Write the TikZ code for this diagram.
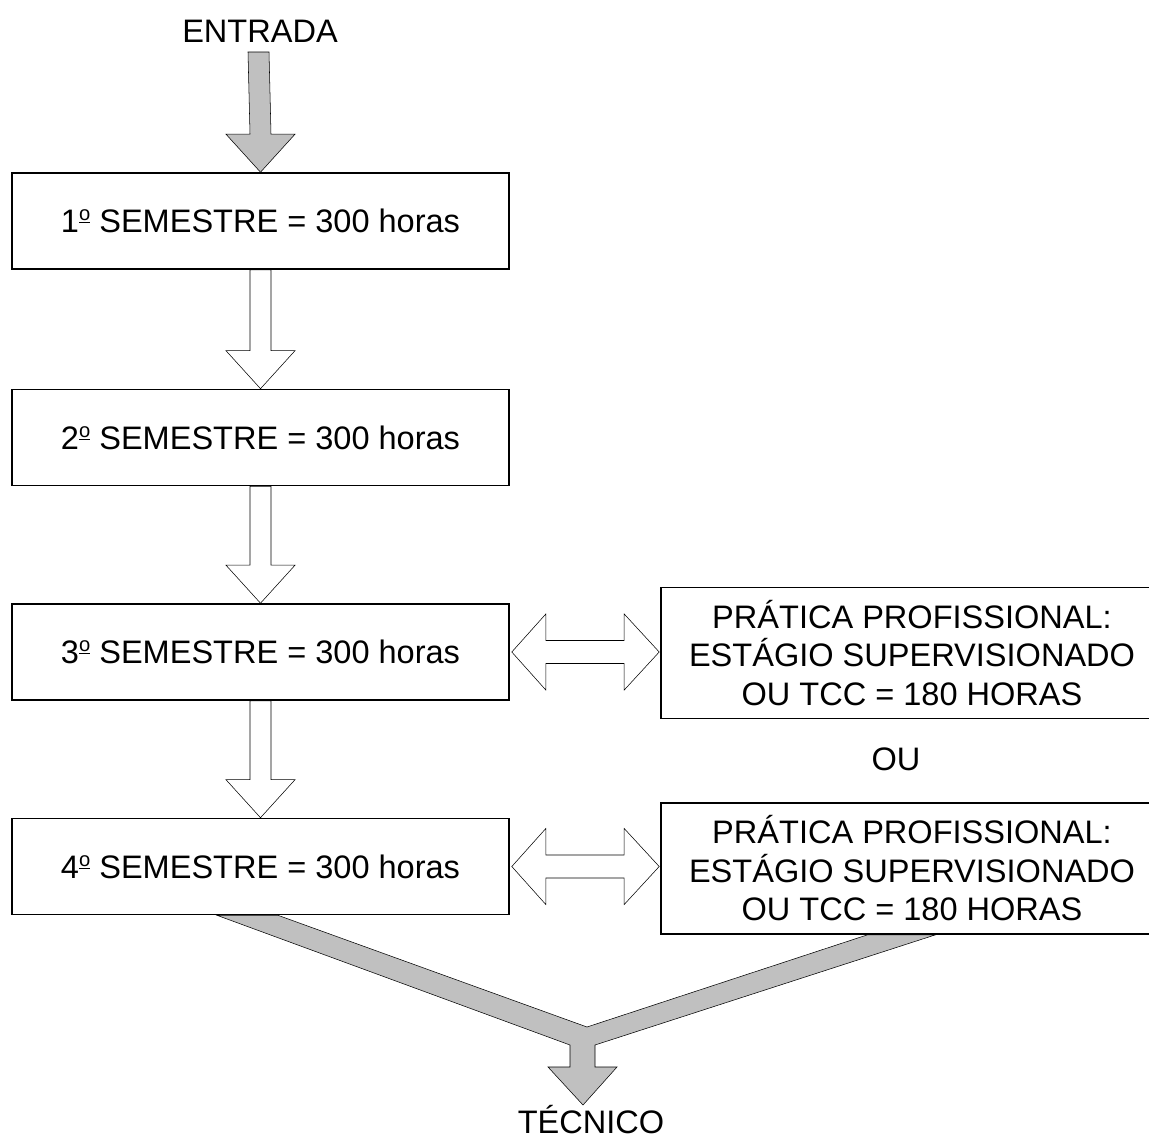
\documentclass[tikz,border=0pt]{standalone}
\usepackage{fontspec}
\setmainfont{Liberation Sans}
\usetikzlibrary{calc,backgrounds}
\definecolor{arrowgray}{HTML}{C0C0C0}
\newcommand\ordsup{\raisebox{0.36em}{\scalebox{0.62}{\underline{o}}}}
\newcommand\blockdown[3]{% style, from, to
  \draw[#1] ($(#2)+(-10.5,0)$) -- ($(#3)+(-10.5,-38)$) -- ($(#3)+(-34.5,-38)$) -- (#3)
    -- ($(#3)+(34.5,-38)$) -- ($(#3)+(10.5,-38)$) -- ($(#2)+(10.5,0)$) -- cycle;}
\newcommand\blockboth[2]{% from (left tip), to (right tip)
  \draw[hollowarrow] (#1) -- ($(#1)+(34,-38)$) -- ($(#1)+(34,-11.5)$) -- ($(#2)+(-35,-11.5)$)
    -- ($(#2)+(-35,-38)$) -- (#2) -- ($(#2)+(-35,38)$) -- ($(#2)+(-35,11.5)$)
    -- ($(#1)+(34,11.5)$) -- ($(#1)+(34,38)$) -- cycle;}
\begin{document}
\begin{tikzpicture}[x=0.75pt,y=-0.75pt,line width=1.2pt,
  every node/.style={font=\fontsize{24.4}{28.9}\selectfont,inner sep=0pt},
  semibox/.style={draw,fill=white,minimum width=372.75pt,minimum height=72pt},
  pbox/.style={draw,fill=white,minimum width=376.5pt,minimum height=98.5pt,align=center},
  lbl/.style={anchor=base},
  hollowarrow/.style={draw=black,fill=white,line join=miter},
  grayarrow/.style={draw=black,fill=arrowgray,line join=miter}]
\clip (0,0) rectangle (1149,1139);

\node[semibox] (s1) at (260.5,221) {1\ordsup{} SEMESTRE = 300 horas};
\node[semibox] (s2) at (260.5,437.5) {2\ordsup{} SEMESTRE = 300 horas};
\node[semibox] (s3) at (260.5,652) {3\ordsup{} SEMESTRE = 300 horas};
\node[semibox] (s4) at (260.5,866.5) {4\ordsup{} SEMESTRE = 300 horas};
\node[pbox] (p1) at (912,653) {PRÁTICA PROFISSIONAL:\\ESTÁGIO SUPERVISIONADO\\OU TCC = 180 HORAS};
\node[pbox] (p2) at (912,868.5) {PRÁTICA PROFISSIONAL:\\ESTÁGIO SUPERVISIONADO\\OU TCC = 180 HORAS};
\node[lbl] (entrada) at (260,42) {ENTRADA};
\node[lbl] (ou) at (896,770) {OU};
\node[lbl] (tecnico) at (591,1133) {TÉCNICO};
\coordinate (start) at (258.5,52);
\coordinate (fork) at (582.5,1045);

\begin{scope}[on background layer]
  \blockdown{grayarrow}{start}{s1.north}
  \blockdown{hollowarrow}{s1.south}{s2.north}
  \blockdown{hollowarrow}{s2.south}{s3.north}
  \blockdown{hollowarrow}{s3.south}{s4.north}
  \blockboth{$(s3.east)+(2,0)$}{$(s3.east -| p1.west)+(-1,0)$}
  \blockboth{$(s4.east)+(2,0)$}{$(s4.east -| p2.west)+(-1,0)$}
  \draw[grayarrow] ($(s4.south)+(-43.5,0)$) -- ($(s4.south)+(17.5,0)$)
    -- ($(fork)+(4.5,-18)$) -- ($(p2.south)+(-45,0)$) -- ($(p2.south)+(23,0)$)
    -- ($(fork)+(12.5,0)$) -- ($(fork)+(12.5,22)$) -- ($(fork)+(34.5,22)$)
    -- ($(fork)+(0.5,60)$) -- ($(fork)+(-34.5,22)$) -- ($(fork)+(-12.5,22)$)
    -- ($(fork)+(-12.5,0)$) -- cycle;
\end{scope}
\end{tikzpicture}
\end{document}
